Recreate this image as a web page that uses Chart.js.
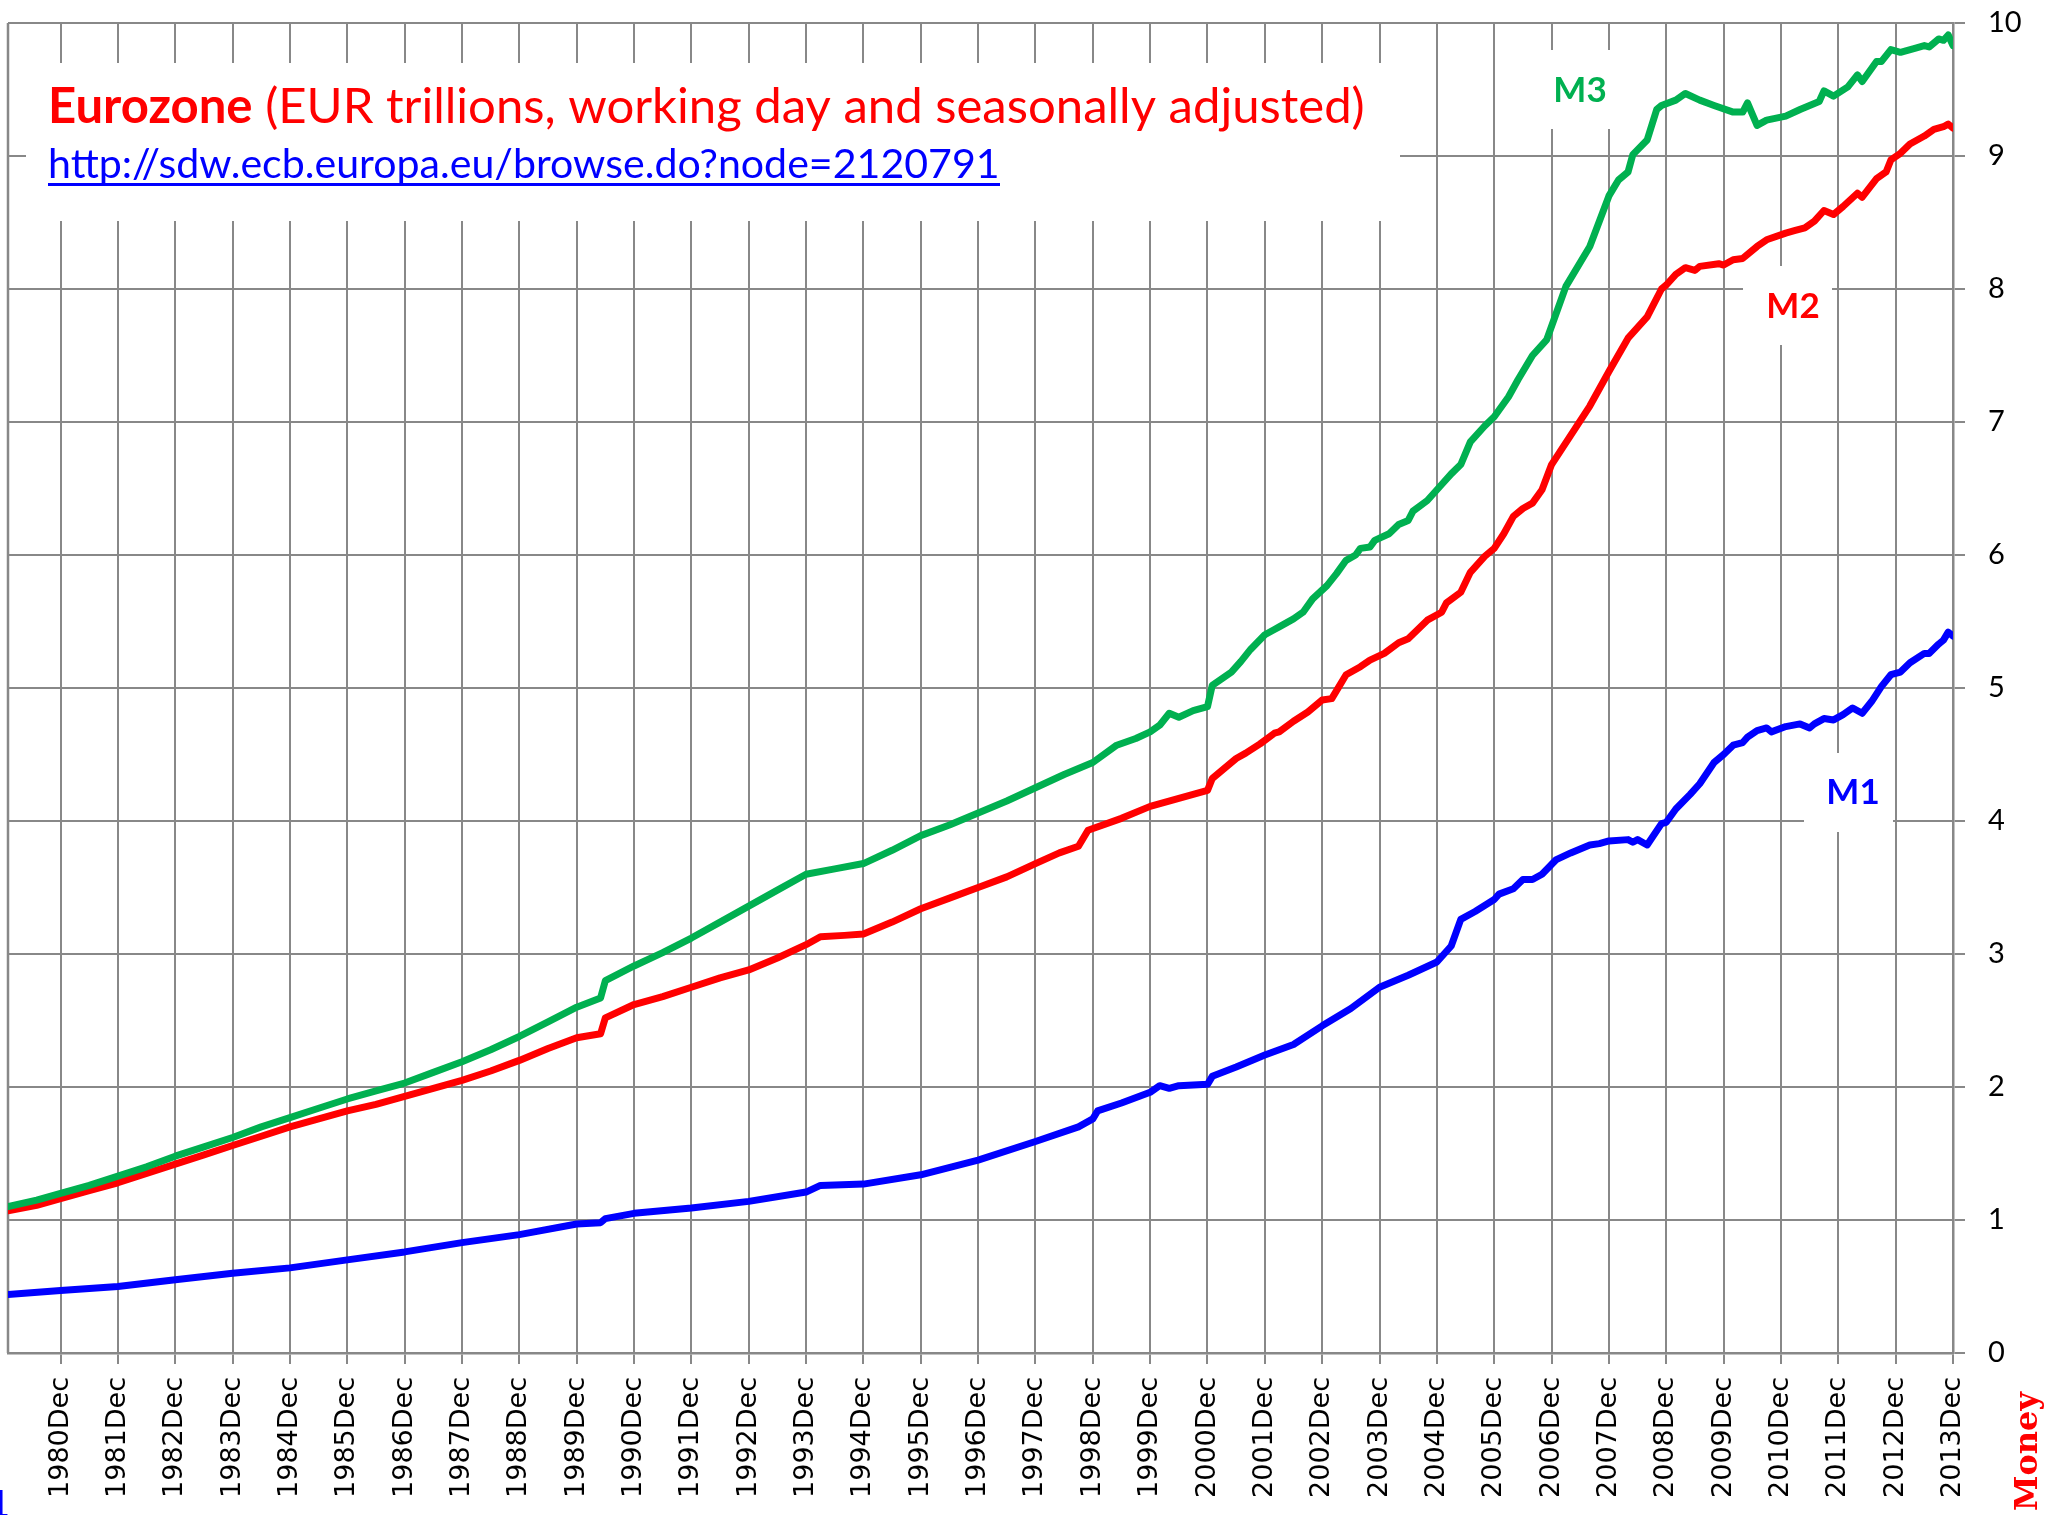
<!DOCTYPE html>
<html><head><meta charset="utf-8">
<script src="https://cdn.jsdelivr.net/npm/chart.js@4.4.1/dist/chart.umd.min.js"></script>
<style>html,body{margin:0;padding:0;background:#fff;overflow:hidden}#wrap{width:2064px;height:1515px;position:relative}canvas{display:block}</style>
</head><body><div id="wrap"><canvas id="c" width="2064" height="1515"></canvas></div>
<script>
// ---- DATA (month index: 0 = 1980 Jan, 407 = 2013 Dec) ----
const tickLabels = ['1980Dec','1981Dec','1982Dec','1983Dec','1984Dec','1985Dec','1986Dec','1987Dec','1988Dec','1989Dec',
  '1990Dec','1991Dec','1992Dec','1993Dec','1994Dec','1995Dec','1996Dec','1997Dec','1998Dec','1999Dec',
  '2000Dec','2001Dec','2002Dec','2003Dec','2004Dec','2005Dec','2006Dec','2007Dec','2008Dec','2009Dec',
  '2010Dec','2011Dec','2012Dec','2013Dec'];
const yTicks = [0,1,2,3,4,5,6,7,8,9,10];

const m3Months = [0,6,11,17,23,29,35,41,47,53,59,65,71,77,83,89,95,101,107,113,119,124,125,131,137,143,149,155,161,167,173,179,185,191,197,203,209,215,221,227,232,236,239,241,243,245,248,251,252,256,258,260,263,265,266,269,271,273,276,278,280,282,283,285,286,289,291,293,294,297,300,302,304,306,309,311,314,316,319,322,326,331,335,337,339,340,343,345,346,349,351,354,357,361,363,364,366,368,372,375,379,380,382,385,387,388,391,392,394,396,399,401,402,404,405,406,407];
const m3Values = [1.10,1.15,1.20,1.26,1.33,1.40,1.48,1.55,1.62,1.70,1.77,1.84,1.91,1.97,2.03,2.11,2.19,2.28,2.38,2.49,2.60,2.67,2.80,2.91,3.01,3.12,3.24,3.36,3.48,3.60,3.64,3.68,3.78,3.89,3.97,4.06,4.15,4.25,4.35,4.44,4.57,4.62,4.67,4.72,4.81,4.78,4.83,4.86,5.02,5.12,5.20,5.29,5.40,5.44,5.46,5.52,5.57,5.67,5.77,5.86,5.96,6.00,6.05,6.06,6.11,6.16,6.23,6.26,6.33,6.41,6.53,6.61,6.68,6.85,6.97,7.04,7.19,7.32,7.50,7.62,8.02,8.32,8.70,8.82,8.88,9.01,9.12,9.35,9.38,9.42,9.47,9.42,9.38,9.33,9.33,9.40,9.23,9.27,9.30,9.35,9.41,9.49,9.45,9.52,9.61,9.56,9.71,9.71,9.80,9.78,9.81,9.83,9.82,9.88,9.87,9.91,9.83];

const m2Months = [0,6,11,17,23,29,35,41,47,53,59,65,71,77,83,89,95,101,107,113,119,124,125,131,137,143,149,155,161,167,170,175,179,185,191,197,203,209,215,220,224,226,233,239,245,251,252,254,257,259,262,265,266,269,272,275,277,280,283,285,288,291,293,295,297,300,301,304,306,309,311,313,315,317,319,321,323,327,331,335,339,343,346,347,349,351,353,354,358,359,361,363,366,368,372,374,376,378,380,382,384,387,388,391,393,394,396,398,401,403,405,406,407];
const m2Values = [1.07,1.11,1.16,1.22,1.28,1.35,1.42,1.49,1.56,1.63,1.70,1.76,1.82,1.87,1.93,1.99,2.05,2.12,2.20,2.29,2.37,2.40,2.52,2.62,2.68,2.75,2.82,2.88,2.97,3.07,3.13,3.14,3.15,3.24,3.34,3.42,3.50,3.58,3.68,3.76,3.81,3.93,4.02,4.11,4.17,4.23,4.32,4.38,4.47,4.51,4.58,4.66,4.67,4.75,4.82,4.91,4.92,5.10,5.16,5.21,5.26,5.34,5.37,5.44,5.51,5.57,5.64,5.72,5.87,5.99,6.05,6.16,6.29,6.35,6.39,6.49,6.68,6.90,7.12,7.38,7.63,7.79,8.00,8.03,8.11,8.16,8.14,8.17,8.19,8.18,8.22,8.23,8.32,8.37,8.42,8.44,8.46,8.51,8.59,8.56,8.62,8.72,8.69,8.83,8.88,8.97,9.02,9.09,9.15,9.20,9.22,9.24,9.21];

const m1Months = [0,11,23,35,47,59,71,83,95,107,119,124,125,131,143,155,167,170,179,191,203,215,224,227,228,233,239,241,243,245,251,252,257,263,269,275,281,287,293,299,302,304,307,311,312,315,317,319,321,324,327,331,333,335,339,340,341,343,346,347,349,352,354,357,359,361,363,364,366,368,369,372,375,377,378,380,382,384,386,388,390,392,394,396,398,401,402,404,405,406,407];
const m1Values = [0.44,0.47,0.50,0.55,0.60,0.64,0.70,0.76,0.83,0.89,0.97,0.98,1.01,1.05,1.09,1.14,1.21,1.26,1.27,1.34,1.45,1.59,1.70,1.76,1.82,1.88,1.96,2.01,1.99,2.01,2.02,2.08,2.15,2.24,2.32,2.46,2.59,2.75,2.84,2.94,3.06,3.26,3.32,3.41,3.45,3.49,3.56,3.56,3.60,3.71,3.76,3.82,3.83,3.85,3.86,3.84,3.86,3.82,3.98,3.99,4.09,4.20,4.28,4.44,4.50,4.57,4.59,4.63,4.68,4.70,4.67,4.71,4.73,4.70,4.73,4.77,4.76,4.80,4.85,4.81,4.90,5.01,5.10,5.12,5.19,5.26,5.26,5.33,5.36,5.42,5.39];

const seriesNames = ['M3','M2','M1'];
const titleBold = 'Eurozone';
const titleRest = ' (EUR trillions, working day and seasonally adjusted)';
const urlText = 'http://sdw.ecb.europa.eu/browse.do?node=2120791';

// ---- STYLE ----
const GRID = '#888888';
const GREEN = '#00b050', RED = '#ff0000', BLUE = '#0000ff';

function pts(ms, vs){ return ms.map((m,i)=>({x:m, y:vs[i]})); }

const overlay = {
  id: 'overlay',
  beforeDatasetsDraw(chart){
    const ctx = chart.ctx, a = chart.chartArea;
    ctx.save();
    ctx.strokeStyle = GRID; ctx.lineWidth = 2.5;
    ctx.beginPath(); ctx.moveTo(a.left, a.top); ctx.lineTo(a.left, a.bottom); ctx.stroke();
    ctx.fillStyle = '#fff';
    ctx.fillRect(26, 63, 1374, 158);
    ctx.fillRect(1536, 50, 89, 79);
    ctx.fillRect(1743, 266, 89, 79);
    ctx.fillRect(1804, 753, 89, 79);
    ctx.textBaseline = 'alphabetic'; ctx.textAlign = 'left';
    ctx.font = 'bold 100px Lato'; const wb = ctx.measureText(titleBold).width;
    ctx.font = '100px Lato'; const wr = ctx.measureText(titleRest).width;
    const ts = 100 * 1317 / (wb + wr);
    ctx.fillStyle = RED;
    ctx.font = `bold ${ts}px Lato`; ctx.fillText(titleBold, 48, 123);
    const bw = ctx.measureText(titleBold).width;
    ctx.font = `${ts}px Lato`; ctx.fillText(titleRest, 48 + bw, 123);
    ctx.font = '100px Lato'; const wu = ctx.measureText(urlText).width;
    const us = 100 * 952 / wu;
    ctx.font = `${us}px Lato`; ctx.fillStyle = BLUE;
    ctx.fillText(urlText, 48, 178);
    ctx.fillRect(48, 183, 952, 3);
    ctx.font = 'bold 35px Lato'; ctx.textAlign = 'center';
    ctx.fillStyle = GREEN; ctx.fillText(seriesNames[0], 1580, 102);
    ctx.fillStyle = RED; ctx.fillText(seriesNames[1], 1793, 318);
    ctx.fillStyle = BLUE; ctx.fillText(seriesNames[2], 1853, 804);
    ctx.restore();
  },
  afterDraw(chart){
    const ctx = chart.ctx;
    ctx.save();
    ctx.font = 'bold 32px "DejaVu Serif"';
    ctx.fillStyle = RED; ctx.textBaseline = 'alphabetic'; ctx.textAlign = 'left';
    ctx.translate(2037, 1511); ctx.rotate(-Math.PI/2);
    ctx.fillText('Money', 0, 0);
    ctx.restore();
    ctx.save();
    ctx.font = 'bold 36px "DejaVu Serif"'; ctx.fillStyle = BLUE; ctx.textAlign = 'right';
    ctx.fillText('1', 11, 1516);
    ctx.restore();
  }
};

function build(){
  new Chart(document.getElementById('c'), {
    type: 'line',
    data: { datasets: [
      {label: seriesNames[0], data: pts(m3Months, m3Values), borderColor: GREEN},
      {label: seriesNames[1], data: pts(m2Months, m2Values), borderColor: RED},
      {label: seriesNames[2], data: pts(m1Months, m1Values), borderColor: BLUE}
    ]},
    options: {
      responsive: false, animation: false, devicePixelRatio: 1,
      layout: {padding: {left: 8, top: 23, right: 0, bottom: 0}},
      plugins: {legend: {display: false}, tooltip: {enabled: false}},
      elements: {point: {radius: 0}, line: {tension: 0, borderWidth: 7, borderCapStyle: 'round', borderJoinStyle: 'round', fill: false}},
      scales: {
        x: {
          type: 'linear', min: 0, max: 407,
          afterBuildTicks: s => { s.ticks = tickLabels.map((l,i)=>({value: 11 + 12*i})); },
          afterFit: s => { s.height = 1515 - 1353; s.paddingLeft = 0; s.paddingRight = 0; },
          grid: {color: GRID, lineWidth: 2, tickLength: 11, drawTicks: true},
          border: {display: true, color: GRID, width: 2.5},
          ticks: {autoSkip: false, minRotation: 90, maxRotation: 90, padding: 13, color: '#000',
            font: {family: 'DejaVu Sans', size: 27},
            callback: v => tickLabels[Math.round((v - 11)/12)]}
        },
        y: {
          position: 'right', min: 0, max: 10,
          afterBuildTicks: s => { s.ticks = yTicks.map(v=>({value: v})); },
          afterFit: s => { s.width = 2064 - 1953; s.paddingTop = 0; s.paddingBottom = 0; },
          grid: {color: GRID, lineWidth: 2, tickLength: 12, drawTicks: true},
          border: {display: true, color: GRID, width: 2.5},
          ticks: {padding: 23, color: '#000', font: {family: 'Lato', size: 29}, callback: v => String(v)}
        }
      }
    },
    plugins: [overlay]
  });
}
const fl = ['29px Lato','bold 35px Lato','27px "DejaVu Sans"','bold 32px "DejaVu Serif"'].map(f=>document.fonts.load(f).catch(()=>null));
Promise.all(fl).then(build, build);
</script>
</body></html>
